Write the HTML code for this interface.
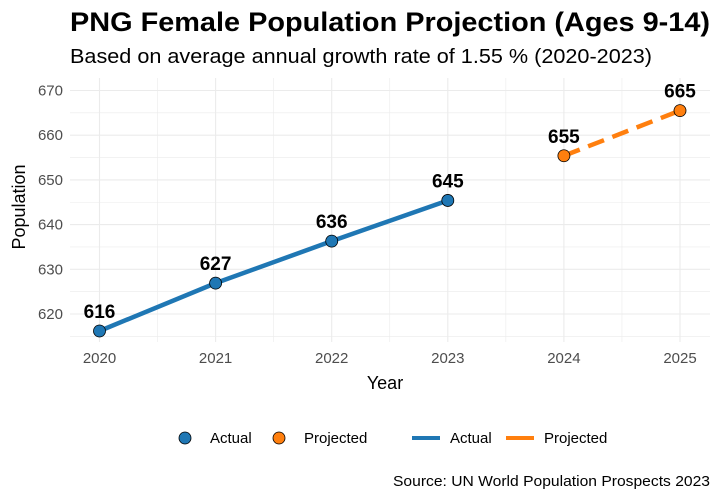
<!DOCTYPE html>
<html><head><meta charset="utf-8"><style>
body{margin:0;background:#fff;width:720px;height:498px;overflow:hidden}
svg{font-family:"Liberation Sans",Arial,sans-serif}
</style></head><body>
<svg id="c" width="720" height="498">
<text x="70" y="31" font-size="27" font-weight="bold" fill="#000" textLength="640" lengthAdjust="spacingAndGlyphs">PNG Female Population Projection (Ages 9-14)</text>
<text x="70" y="63" font-size="20" fill="#000" textLength="582" lengthAdjust="spacingAndGlyphs">Based on average annual growth rate of 1.55 % (2020-2023)</text>
<g id="grid"></g><g id="marks"></g><g id="axes"></g>
<text x="385" y="389" font-size="18" text-anchor="middle" fill="#000">Year</text>
<text transform="translate(25,207) rotate(-90)" font-size="18" text-anchor="middle" fill="#000">Population</text>
<g font-size="15" fill="#000">
<circle cx="185" cy="438" r="6" fill="#1f77b4" stroke="#000" stroke-width="0.8"/>
<text x="210" y="443">Actual</text>
<circle cx="279" cy="438" r="6" fill="#ff7f0e" stroke="#000" stroke-width="0.8"/>
<text x="304" y="443">Projected</text>
<line x1="412" y1="438" x2="440" y2="438" stroke="#1f77b4" stroke-width="4"/>
<text x="450" y="443">Actual</text>
<line x1="506" y1="438" x2="534" y2="438" stroke="#ff7f0e" stroke-width="4"/>
<text x="544" y="443">Projected</text>
</g>
<text x="710" y="486" font-size="15" text-anchor="end" fill="#000" textLength="317" lengthAdjust="spacingAndGlyphs">Source: UN World Population Prospects 2023</text>
</svg>
<script>
const years=[2020,2021,2022,2023,2024,2025];
const values=[616.2,626.9,636.3,645.4,655.4,665.5];
const labels=["616","627","636","645","655","665"];
const types=["Actual","Actual","Actual","Actual","Projected","Projected"];
const yTicks=[620,630,640,650,660,670];
const NS="http://www.w3.org/2000/svg";
const L=70,R=710,T=78,B=342;
const x=v=>99.5+(v-2020)*116.1;
const y=v=>314-(v-620)*4.47;
function mk(p,tag,a){const e=document.createElementNS(NS,tag);for(const k in a)e.setAttribute(k,a[k]);p.appendChild(e);return e;}
const g=document.getElementById('grid'),m=document.getElementById('marks'),ax=document.getElementById('axes');
for(let v=615;v<=675;v+=5){const yy=y(v);if(yy<T||yy>B)continue;
 const l=mk(g,'line',{x1:L,x2:R,y1:yy,y2:yy,stroke:'#ebebeb','stroke-width':v%10?0.6:1.1});
 
 }
for(let v=2019.5;v<=2025.5;v+=0.5){const xx=x(v);if(xx<L||xx>R)continue;
 const l=mk(g,'line',{x1:xx,x2:xx,y1:T,y2:B,stroke:'#ebebeb','stroke-width':v%1?0.6:1.1});
 
 }
yTicks.forEach(v=>{const t=mk(ax,'text',{x:63,y:y(v)+5,'text-anchor':'end','font-size':15,fill:'#4d4d4d'});t.textContent=v;
 
 });
years.forEach(v=>{const t=mk(ax,'text',{x:x(v),y:363,'text-anchor':'middle','font-size':15,fill:'#4d4d4d'});t.textContent=v;
 
 });
const act=[],proj=[];
years.forEach((yr,i)=>{(types[i]==='Actual'?act:proj).push(x(yr)+','+y(values[i]));});
const la=mk(m,'polyline',{points:act.join(' '),fill:'none',stroke:'#1f77b4','stroke-width':4.5});


const lp=mk(m,'polyline',{points:proj.join(' '),fill:'none',stroke:'#ff7f0e','stroke-width':4.5,'stroke-dasharray':'17 9'});


years.forEach((yr,i)=>{
 const c=mk(m,'circle',{cx:x(yr),cy:y(values[i]),r:6,fill:types[i]==='Actual'?'#1f77b4':'#ff7f0e',stroke:'#000','stroke-width':0.8});
 
 
 const t=mk(m,'text',{x:x(yr),y:y(values[i])-13,'text-anchor':'middle','font-size':19,'font-weight':'bold',fill:'#000'});t.textContent=labels[i];
 
 
});
</script>
</body></html>
